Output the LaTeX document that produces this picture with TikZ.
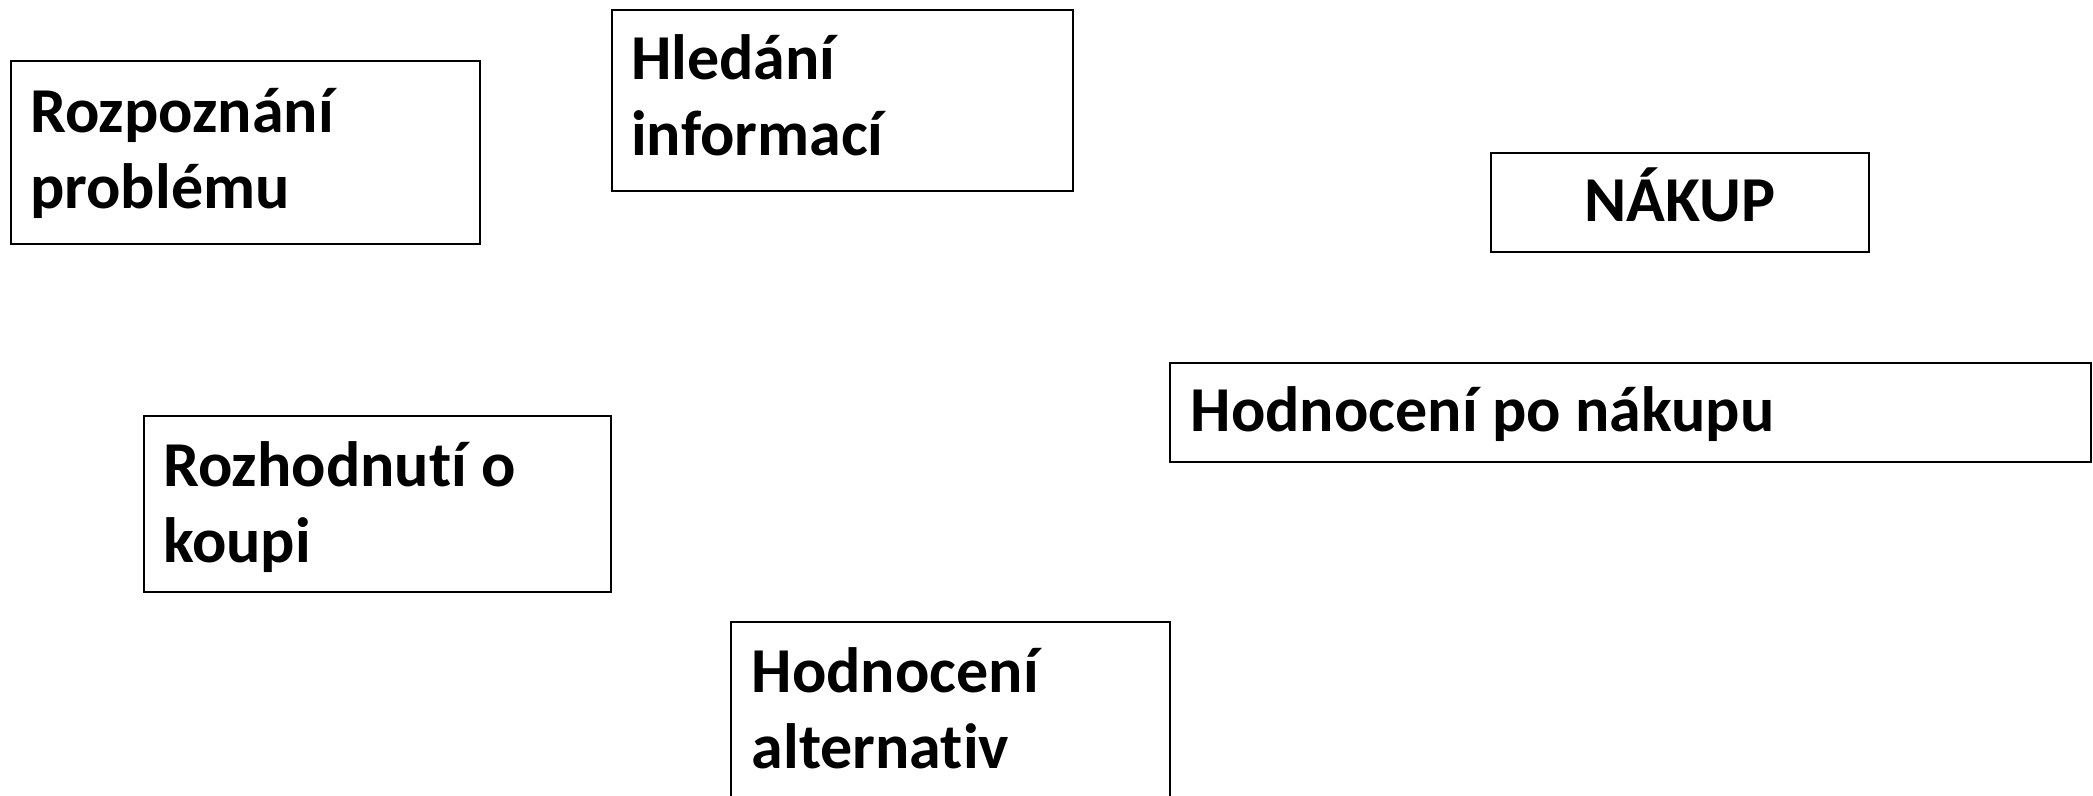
\documentclass[tikz,border=0pt]{standalone}
\usepackage{fontspec}
\setmainfont{Carlito}[Ligatures={NoCommon}]
\begin{document}
\begin{tikzpicture}[x=1pt,y=-1pt,
  box/.style={draw=black, line width=2pt, fill=white, inner sep=0pt, outer sep=0pt, anchor=north west},
  lbl/.style={font=\bfseries\fontsize{64}{76}\selectfont, inner sep=0pt, anchor=base west, align=left}]
\clip (0,0) rectangle (2093,795);
\fill[white] (0,0) rectangle (2093,795);
% boxes
\node[box, minimum width=469.5pt, minimum height=183pt] (rp) at (10.5,61) {};
\node[box, minimum width=461.5pt, minimum height=181pt] (hi) at (611.5,10) {};
\node[box, minimum width=378pt, minimum height=99pt] (nk) at (1491,152.5) {};
\node[box, minimum width=921.5pt, minimum height=99pt] (hp) at (1169.5,363) {};
\node[box, minimum width=467pt, minimum height=176pt] (rk) at (143.5,416) {};
\node[box, minimum width=439pt, minimum height=220pt] (ha) at (731,622) {};
% texts (anchor = baseline of last line)
\node[lbl] (trp) at (30,208.5) {Rozpoznání\\problému};
\node[lbl] (thi) at (631,155.5) {Hledání\\informací};
\node[lbl, anchor=base] (tnk) at (1680,221.7) {NÁKUP};
\node[lbl] (thp) at (1190.5,431.7) {Hodnocení po nákupu};
\node[lbl] (trk) at (163,562.7) {Rozhodnutí o\\koupi};
\node[lbl] (tha) at (751.5,768.3) {Hodnocení\\alternativ};
\end{tikzpicture}
\end{document}
